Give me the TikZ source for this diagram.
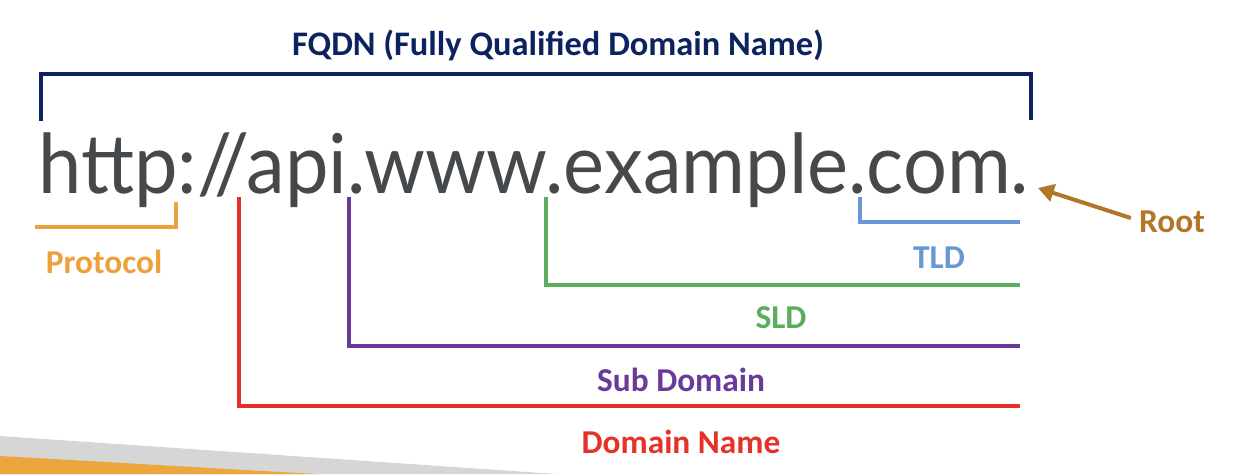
\documentclass[tikz,border=0pt]{standalone}
\usepackage{graphicx}
\usepackage{fontspec}
\setmainfont{Carlito}
\newfontfamily\urlfont{Lato}
\usetikzlibrary{arrows.meta}
\definecolor{fqdnblue}{RGB}{12,35,95}
\definecolor{protoorange}{RGB}{238,160,58}
\definecolor{domainred}{RGB}{228,50,40}
\definecolor{subpurple}{RGB}{106,58,154}
\definecolor{sldgreen}{RGB}{92,174,92}
\definecolor{tldblue}{RGB}{104,152,212}
\definecolor{rootbrown}{RGB}{178,118,42}
\definecolor{urlgray}{RGB}{70,73,75}
\definecolor{bandgray}{RGB}{214,214,214}
\definecolor{bandorange}{RGB}{236,166,62}

\begin{document}
\begin{tikzpicture}[x=0.02cm,y=-0.02cm,
  lbl/.style={font=\bfseries\fontsize{19}{23}\selectfont,inner sep=0pt},
  brk/.style={line width=2.8pt}]
  \useasboundingbox (0,0) rectangle (1236,474);
  % Corner bands
  \fill[bandgray] (0,436) -- (557,474) -- (0,474) -- cycle;
  \fill[bandorange] (0,456) -- (316,474) -- (0,474) -- cycle;
  % Title and FQDN bracket
  \node[lbl,font=\bfseries\fontsize{19.6}{23}\selectfont,text=fqdnblue] (fqdn) at (558,45)
    {FQDN (Fully Qualified Domain Name)};
  \coordinate (fqdn-l) at (41,121);
  \coordinate (fqdn-r) at (1031,120);
  \draw[brk,fqdnblue] (fqdn-l) -- ++(0,-47) -| (fqdn-r);
  % The name itself
  \node[anchor=base west,inner sep=0pt,text=urlgray] (url) at (38,193)
    {\resizebox{563.5pt}{34.6pt}{\urlfont http://api.www.example.com.}};
  % Protocol
  \coordinate (proto-a) at (176,202);
  \coordinate (proto-b) at (35,227);
  \draw[brk,protoorange] (proto-a) |- (proto-b);
  \node[lbl,text=protoorange] (proto) at (104,262) {Protocol};
  % TLD
  \coordinate (tld-a) at (860,197);
  \coordinate (tld-b) at (1020,222);
  \draw[brk,tldblue] (tld-a) |- (tld-b);
  \node[lbl,text=tldblue] (tld) at (939,258) {TLD};
  % SLD
  \coordinate (sld-a) at (546,197);
  \coordinate (sld-b) at (1020,285);
  \draw[brk,sldgreen] (sld-a) |- (sld-b);
  \node[lbl,text=sldgreen] (sld) at (781,318) {SLD};
  % Sub domain
  \coordinate (sub-a) at (349,197);
  \coordinate (sub-b) at (1020,346);
  \draw[brk,subpurple] (sub-a) |- (sub-b);
  \node[lbl,text=subpurple] (sub) at (681,380) {Sub Domain};
  % Domain name
  \coordinate (dom-a) at (239,197);
  \coordinate (dom-b) at (1020,406);
  \draw[brk,domainred] (dom-a) |- (dom-b);
  \node[lbl,text=domainred] (dom) at (681,442) {Domain Name};
  % Root
  \node[lbl,text=rootbrown] (root) at (1172,222) {Root};
  \coordinate (rootdot) at (1038,188);
  \draw[-{Triangle[length=9pt,width=10pt]},line width=2.3pt,rootbrown]
    (root.west) ++(-8,-4) -- (rootdot);
\end{tikzpicture}
\end{document}
